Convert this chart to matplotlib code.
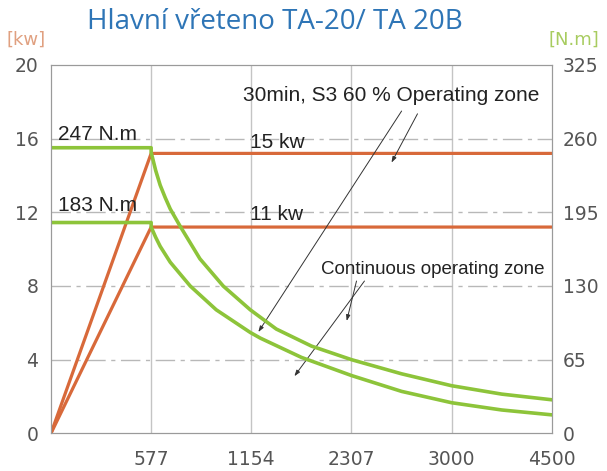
import numpy as np
import matplotlib
matplotlib.use('Agg')
import matplotlib.pyplot as plt

# speed ticks (rpm) - evenly spaced on the axis although values are not
rpm_ticks = [0, 577, 1154, 2307, 3000, 4500]
rpm_labels = ['', '577', '1154', '2307', '3000', '4500']

# power curves [kw]
power_rpm = [0, 577, 4500]
power_s3 = [0, 15.2, 15.2]
power_cont = [0, 11.2, 11.2]

# torque curves [N.m]
torque_s3_rpm = [0, 577, 577, 603, 629, 658, 687, 743, 858, 992, 1148, 1442, 1846,
                 2307, 2654, 3000, 3750, 4500]
torque_s3 = [252, 252, 248, 232, 219, 208, 198, 183, 154, 130, 109, 92, 77,
             65, 52.5, 42, 34.6, 29.6]
torque_cont_rpm = [0, 577, 577, 603, 629, 658, 687, 802, 952, 1148, 1258, 1731,
                   2307, 2654, 3000, 3750, 4500]
torque_cont = [186, 186, 182, 173, 165, 158, 151, 130, 109, 89, 84, 67,
               51, 37, 27, 20.6, 16.3]

kw_ticks = [0, 4, 8, 12, 16, 20]
nm_ticks = [0, 65, 130, 195, 260, 325]

RED = '#d8693a'
GREEN = '#8dc43a'
GREY = '#555555'


def fwd(x):
    return np.interp(x, rpm_ticks, np.arange(len(rpm_ticks)))


def inv(p):
    return np.interp(p, np.arange(len(rpm_ticks)), rpm_ticks)


fig = plt.figure(figsize=(6.07, 4.71), dpi=100)
ax = fig.add_axes([0.084, 0.080, 0.825, 0.782])
ax.set_xscale('function', functions=(fwd, inv))
ax.set_xlim(0, 4500)
ax.set_ylim(0, 20)
ax2 = ax.twinx()
ax2.set_ylim(0, 325)

#grid
for r in rpm_ticks[1:-1]:
    ax.axvline(r, color='#c4c4c4', lw=1.0, zorder=0)
for k in kw_ticks[1:-1]:
    ax.axhline(k, color='#b8b8b8', lw=1.0, dashes=(14, 4, 3, 4), zorder=0)

#power
ax.plot(power_rpm, power_s3, color=RED, lw=2.3, solid_capstyle='round')
ax.plot(power_rpm, power_cont, color=RED, lw=2.3, solid_capstyle='round')
#torque
ax2.plot(torque_s3_rpm, torque_s3, color=GREEN, lw=2.6, solid_joinstyle='round')
ax2.plot(torque_cont_rpm, torque_cont, color=GREEN, lw=2.6, solid_joinstyle='round')

#ticks
ax.set_xticks(rpm_ticks)
ax.set_xticklabels(rpm_labels)
ax.set_yticks(kw_ticks)
ax2.set_yticks(nm_ticks)
for a in (ax, ax2):
    a.tick_params(length=0, labelsize=13.5, colors=GREY)
    for s in a.spines.values():
        s.set_color('#9a9a9a')
ax.tick_params(axis='x', pad=12)
ax.tick_params(axis='y', pad=9)
ax2.tick_params(axis='y', pad=8)

#labels
txt = dict(fontsize=15, color='#222222', family='Liberation Sans', va='baseline')
ax.text(40, 15.95, '247 N.m', ha='left', **txt)
ax.text(40, 12.05, '183 N.m', ha='left', **txt)
ax.text(1146, 15.5, '15 kw', ha='left', **txt)
ax.text(1146, 11.6, '11 kw', ha='left', **txt)
ax.text(4320, 18.05, '30min, S3 60 % Operating zone', ha='right', va='baseline',
        fontsize=15, color='#222222', family='Liberation Sans')
ax.text(4395, 8.64, 'Continuous operating zone', ha='right', va='baseline',
        fontsize=13.5, color='#222222', family='Liberation Sans')

# arrows (start, end) in (rpm, kw)
arrows = [((2654, 17.5), (1235, 5.5)),
          ((2764, 17.35), (2584, 14.7)),
          ((2342, 8.27), (2252, 6.1)),
          ((2397, 8.27), (1650, 3.1))]
for start, end in arrows:
    ax.annotate('', xy=end, xytext=start,
                arrowprops=dict(arrowstyle='-|>,head_length=0.35,head_width=0.12',
                                color='#333333', lw=0.7, shrinkA=0, shrinkB=0))

fig.text(0.043, 0.915, '[kw]', color='#e0a080', fontsize=13, ha='center', va='center')
fig.text(0.946, 0.915, '[N.m]', color='#a8cc60', fontsize=13, ha='center', va='center')
fig.text(0.453, 0.953, 'Hlavní vřeteno TA-20/ TA 20B', color='#2e75b6',
         fontsize=20, family='Open Sans', ha='center', va='center')

plt.savefig('out.png', dpi=100)
